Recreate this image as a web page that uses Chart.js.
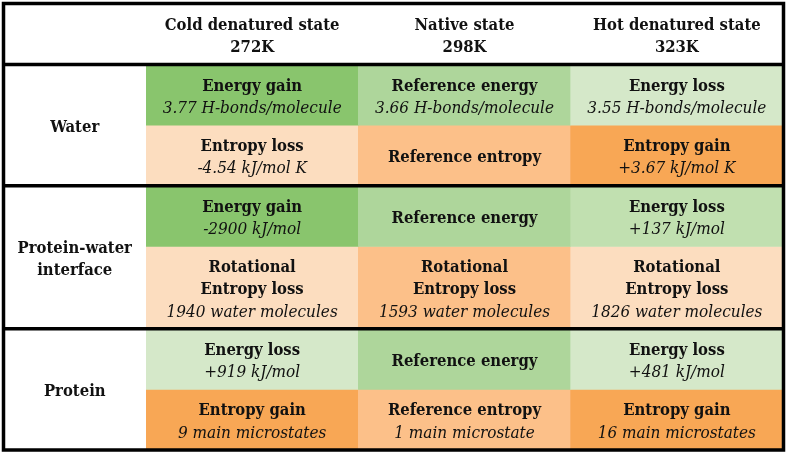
<!DOCTYPE html>
<html>
<head>
<meta charset="utf-8">
<script src="https://cdn.jsdelivr.net/npm/chart.js@4/dist/chart.umd.min.js"></script>
<style>
  html, body { margin: 0; padding: 0; background: #fff; }
</style>
</head>
<body>
<canvas id="tbl" width="787" height="454"></canvas>
<script>
// table content
var states = ["Cold denatured state", "Native state", "Hot denatured state"];
var temps = ["272K", "298K", "323K"];
var groups = ["Water", "Protein-water\ninterface", "Protein"];
var rowGroup = [0, 0, 1, 1, 2, 2];   // which group each sub-row belongs to

var titles = [
  ["Energy gain", "Reference energy", "Energy loss"],
  ["Entropy loss", "Reference entropy", "Entropy gain"],
  ["Energy gain", "Reference energy", "Energy loss"],
  ["Rotational\nEntropy loss", "Rotational\nEntropy loss", "Rotational\nEntropy loss"],
  ["Energy loss", "Reference energy", "Energy loss"],
  ["Entropy gain", "Reference entropy", "Entropy gain"]
];
var notes = [
  ["3.77 H-bonds/molecule", "3.66 H-bonds/molecule", "3.55 H-bonds/molecule"],
  ["-4.54 kJ/mol K", "", "+3.67 kJ/mol K"],
  ["-2900 kJ/mol", "", "+137 kJ/mol"],
  ["1940 water molecules", "1593 water molecules", "1826 water molecules"],
  ["+919 kJ/mol", "", "+481 kJ/mol"],
  ["9 main microstates", "1 main microstate", "16 main microstates"]
];
var shades = [
  ["g3", "g2", "g1"],
  ["o1", "o2", "o3"],
  ["g3", "g2", "g1b"],
  ["o1", "o2", "o1"],
  ["g1", "g2", "g1"],
  ["o3", "o2", "o3"]
];

// styles
var palette = {
  g3: "#89c56d", g2: "#aed69b", g1: "#d5e8c9", g1b: "#c1e0b0",
  o1: "#fcddbf", o2: "#fcc089", o3: "#f8a755"
};
var BOLD = 'bold 16.5px "DejaVu Serif Condensed", "Liberation Serif"';
var ITAL = 'italic 17px "DejaVu Serif Condensed", "Liberation Serif"';
var LINE_H = 22;
var NUDGE = 2.5;     // text sits a touch low in the original
var INK = "#111";

function cellLines(r, c){
  var out = titles[r][c].split("\n").map(function(t){ return {t: t, f: BOLD}; });
  if (notes[r][c]) out.push({t: notes[r][c], f: ITAL});
  return out;
}

// row heights in "line" units
var headerUnits = 2.8;
var ranges = [];
var pos = headerUnits;
for (var r = 0; r < titles.length; r++){
  var n = 0;
  for (var c = 0; c < 3; c++) n = Math.max(n, cellLines(r, c).length);
  ranges.push([pos, pos + n + 0.8]);
  pos += n + 0.8;
}
var totalUnits = pos;

var datasets = [];
for (var r = 0; r < titles.length; r++){
  datasets.push({
    data: [ranges[r], ranges[r], ranges[r]],
    backgroundColor: shades[r].map(function(k){ return palette[k]; }),
    borderWidth: 0,
    grouped: false,
    barPercentage: 1,
    categoryPercentage: 1
  });
}

function drawLines(ctx, lines, x, yc){
  var y0 = yc + NUDGE - (lines.length - 1) * LINE_H / 2;
  lines.forEach(function(l, i){
    ctx.font = l.f;
    ctx.fillText(l.t, x, y0 + i * LINE_H);
  });
}

var tablePlugin = {
  id: "tableText",
  afterDraw: function(chart){
    var ctx = chart.ctx;
    var xs = chart.scales.x, ys = chart.scales.y;
    var area = chart.chartArea;
    ctx.save();
    ctx.fillStyle = INK;
    ctx.textAlign = "center";
    ctx.textBaseline = "middle";

    // header
    var hy = ys.getPixelForValue(headerUnits / 2);
    for (var c = 0; c < states.length; c++){
      drawLines(ctx, [{t: states[c], f: BOLD}, {t: temps[c], f: BOLD}], xs.getPixelForValue(c), hy);
    }

    // cells
    chart.data.datasets.forEach(function(ds, r){
      var meta = chart.getDatasetMeta(r);
      meta.data.forEach(function(bar, c){
        drawLines(ctx, cellLines(r, c), bar.x, (bar.y + bar.base) / 2);
      });
    });

    // group labels in left column
    var lx = (3.5 + area.left) / 2;
    groups.forEach(function(g, gi){
      var rows = ranges.filter(function(rg, r){ return rowGroup[r] === gi; });
      var mid = (rows[0][0] + rows[rows.length - 1][1]) / 2;
      var lines = g.split("\n").map(function(t){ return {t: t, f: BOLD}; });
      drawLines(ctx, lines, lx, ys.getPixelForValue(mid));
    });

    // thick rules
    ctx.strokeStyle = "#000";
    ctx.lineWidth = 3.5;
    var cuts = [headerUnits];
    for (var r = 1; r < ranges.length; r++){
      if (rowGroup[r] !== rowGroup[r - 1]) cuts.push(ranges[r][0]);
    }
    cuts.forEach(function(u){
      var py = ys.getPixelForValue(u);
      ctx.beginPath();
      ctx.moveTo(3.5, py);
      ctx.lineTo(783.5, py);
      ctx.stroke();
    });
    ctx.strokeRect(3.5, 3.5, 780, 446.5);
    ctx.restore();
  }
};

new Chart(document.getElementById("tbl"), {
  type: "bar",
  data: { labels: states, datasets: datasets },
  options: {
    responsive: false,
    animation: false,
    devicePixelRatio: 1,
    layout: { padding: { left: 146, right: 4, top: 4, bottom: 4 } },
    scales: {
      x: { display: false },
      y: { display: false, reverse: true, min: 0, max: totalUnits }
    },
    plugins: { legend: { display: false }, tooltip: { enabled: false } }
  },
  plugins: [tablePlugin]
});
</script>
</body>
</html>
